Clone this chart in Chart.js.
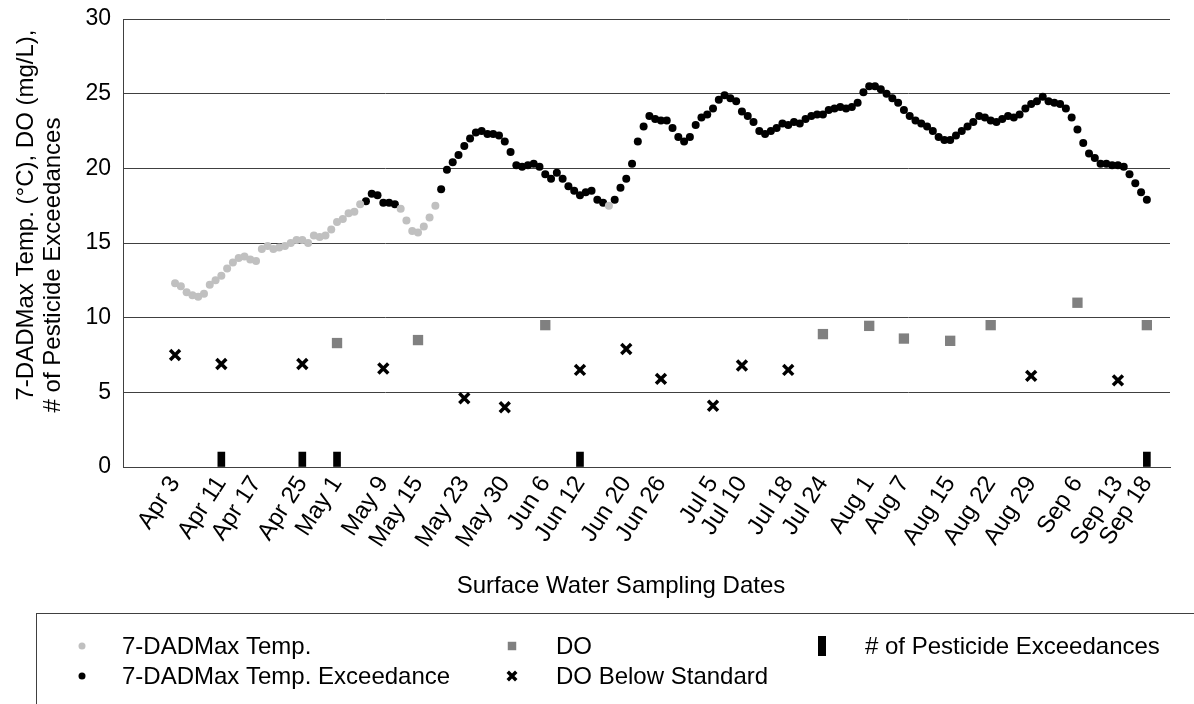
<!DOCTYPE html>
<html><head><meta charset="utf-8">
<script src="https://cdn.jsdelivr.net/npm/chart.js@4/dist/chart.umd.min.js"></script>
<style>html,body{margin:0;padding:0;background:#fff}#wrap{width:1194px;height:704px;position:relative}</style>
</head><body><div id="wrap"><canvas id="c" width="1194" height="704"></canvas></div>
<script>
// ---------- data ----------
const samplingDates = ['Apr 3','Apr 11','Apr 17','Apr 25','May 1','May 9','May 15','May 23','May 30','Jun 6','Jun 12','Jun 20','Jun 26','Jul 5','Jul 10','Jul 18','Jul 24','Aug 1','Aug 7','Aug 15','Aug 22','Aug 29','Sep 6','Sep 13','Sep 18'];
const doValues = [7.5, 6.9, null, 6.9, 8.3, 6.6, 8.5, 4.6, 4.0, 9.5, 6.5, 7.9, 5.9, 4.1, 6.8, 6.5, 8.9, 9.45, 8.6, 8.45, 9.5, 6.1, 11.0, 5.8, 9.5];
const doStandard = 8.0;
const pesticideExceedances = [0,1,0,1,1,0,0,0,0,0,1,0,0,0,0,0,0,0,0,0,0,0,0,0,1];
const tempStartDate = 'Apr 3';
const tempDaily = [
 12.3,12.1,11.7,11.5,11.4,11.6,12.2,12.5,12.8,13.3,
 13.7,14.0,14.1,13.9,13.8,14.6,14.8,14.6,14.7,14.8,
 15.0,15.2,15.2,15.0,15.5,15.4,15.5,15.9,16.4,16.6,
 17.0,17.1,17.6,17.8,18.3,18.2,17.7,17.7,17.6,
 17.3,16.5,15.8,15.7,16.1,16.7,17.5,
 18.6,19.9,20.4,20.9,21.5,22.0,22.4,22.5,22.3,22.3,
 22.2,21.8,21.1,20.2,20.1,20.2,20.3,20.1,19.6,19.3,
 19.7,19.3,18.8,18.5,18.2,18.4,18.5,17.9,17.7,17.5,
 17.9,18.7,19.3,20.3,21.8,
 22.8,23.5,23.3,23.2,23.2,22.7,22.1,21.8,22.1,22.9,23.4,
 23.6,24.0,24.6,24.9,24.7,24.5,23.8,23.5,23.1,22.5,
 22.3,22.5,22.7,23.0,22.9,23.1,23.0,23.3,23.5,23.6,
 23.6,23.9,24.0,24.1,24.0,24.1,24.4,25.1,25.5,25.5,25.3,25.0,
 24.7,24.4,23.9,23.5,23.2,23.0,22.8,22.5,22.1,21.9,21.9,22.2,22.5,22.8,23.1,
 23.5,23.4,23.2,23.1,23.3,23.5,23.4,23.6,24.0,24.3,
 24.5,24.8,24.5,24.4,24.3,24.0,23.4,22.6,21.7,21.0,
 20.7,20.3,20.3,20.2,20.2,20.1,19.6,19.0,18.4,17.9
];
const tempNonExceedRanges = [[0,32],[39,45],[75,75]]; // day indices from tempStartDate
const xRangeDates = ['Mar 25', 'Sep 22'];
const yTickStep = 5, yMin = 0, yMax = 30;

// ---------- helpers ----------
const monthStart = {Jan:0, Feb:31, Mar:59, Apr:90, May:120, Jun:151, Jul:181, Aug:212, Sep:243, Oct:273};
const doy = s => { const [m, d] = s.split(' '); return monthStart[m] + parseInt(d, 10); };
const sampleDoy = samplingDates.map(doy);
const t0 = doy(tempStartDate);
const isNonExceed = i => tempNonExceedRanges.some(([a, b]) => i >= a && i <= b);

const tempNormalPts = [], tempExceedPts = [];
tempDaily.forEach((v, i) => (isNonExceed(i) ? tempNormalPts : tempExceedPts).push({x: t0 + i, y: v}));
const doOkPts = [], doLowPts = [];
doValues.forEach((v, i) => { if (v == null) return; (v < doStandard ? doLowPts : doOkPts).push({x: sampleDoy[i], y: v}); });
const pestPts = [];
pesticideExceedances.forEach((v, i) => { if (v > 0) pestPts.push({x: sampleDoy[i], y: v}); });

const FONT = "'Liberation Sans', Arial, sans-serif";
Chart.defaults.font.family = FONT;
Chart.defaults.color = '#000';

const yTitleLines = ['7-DADMax Temp. (\u00B0C), DO (mg/L),', '# of Pesticide Exceedances'];
const xTitle = 'Surface Water Sampling Dates';

const titlePlugin = {
  id: 'axisTitles',
  afterDraw(chart) {
    const ctx = chart.ctx;
    ctx.save();
    ctx.fillStyle = '#000';
    ctx.font = '24px ' + FONT;
    ctx.textAlign = 'center';
    ctx.textBaseline = 'middle';
    const pos = [[26, 215], [53, 265]];
    yTitleLines.forEach((t, i) => {
      ctx.save();
      ctx.translate(pos[i][0], pos[i][1]);
      ctx.rotate(-Math.PI / 2);
      ctx.fillText(t, 0, 0);
      ctx.restore();
    });
    ctx.fillText(xTitle, 621, 586);
    ctx.restore();
  }
};

const legendLayout = [
  {ds: 0, x: 82, y: 646, tx: 122},
  {ds: 1, x: 82, y: 676, tx: 122},
  {ds: 2, x: 512, y: 646, tx: 556},
  {ds: 3, x: 512, y: 676, tx: 556},
  {ds: 4, x: 822, y: 646, tx: 865}
];
const legendPlugin = {
  id: 'boxLegend',
  afterDraw(chart) {
    const ctx = chart.ctx;
    ctx.save();
    ctx.strokeStyle = '#404040';
    ctx.lineWidth = 1;
    ctx.strokeRect(36.5, 613.5, 1300, 200);
    ctx.font = '24px ' + FONT;
    ctx.textBaseline = 'middle';
    ctx.textAlign = 'left';
    legendLayout.forEach(it => {
      const ds = chart.data.datasets[it.ds];
      if (ds.type === 'bar') {
        ctx.fillStyle = ds.backgroundColor;
        ctx.fillRect(it.x - 4, it.y - 10, 8, 20);
      } else {
        ctx.fillStyle = ds.pointBackgroundColor || '#000';
        ctx.strokeStyle = ds.pointBorderColor || '#000';
        ctx.lineWidth = ds.pointBorderWidth || 0;
        const r = ds.pointStyle === 'circle' ? 3.5 : 6;
        Chart.helpers.drawPoint(ctx, {pointStyle: ds.pointStyle, radius: r, rotation: 0, borderWidth: ds.pointBorderWidth || 0}, it.x, it.y);
      }
      ctx.fillStyle = '#000';
      ctx.fillText(ds.label, it.tx, it.y + 1);
    });
    ctx.restore();
  }
};

new Chart(document.getElementById('c'), {
  type: 'scatter',
  data: {
    datasets: [
      {label: '7-DADMax Temp.', data: tempNormalPts, pointStyle: 'circle', pointRadius: 4, pointBackgroundColor: '#c0c0c0', pointBorderWidth: 0},
      {label: '7-DADMax Temp. Exceedance', data: tempExceedPts, pointStyle: 'circle', pointRadius: 4, pointBackgroundColor: '#000', pointBorderWidth: 0},
      {label: 'DO', data: doOkPts, pointStyle: 'rect', pointRadius: 7.3, pointBackgroundColor: '#808080', pointBorderWidth: 0},
      {label: 'DO Below Standard', data: doLowPts, pointStyle: 'crossRot', pointRadius: 7, pointBorderColor: '#000', pointBackgroundColor: '#000', pointBorderWidth: 3.5},
      {type: 'bar', label: '# of Pesticide Exceedances', data: pestPts, backgroundColor: '#000', borderWidth: 0, barThickness: 7}
    ]
  },
  options: {
    responsive: false,
    animation: false,
    events: [],
    layout: {padding: {left: 0, right: 24, top: 19, bottom: 104}},
    plugins: {legend: {display: false}, tooltip: {enabled: false}},
    scales: {
      x: {
        type: 'linear',
        offset: false,
        min: doy(xRangeDates[0]),
        max: doy(xRangeDates[1]),
        afterBuildTicks: s => { s.ticks = sampleDoy.map(v => ({value: v})); },
        afterFit: s => { s.height = 133; s.paddingLeft = 0; s.paddingRight = 0; },
        ticks: {autoSkip: false, minRotation: 57, maxRotation: 57, padding: 4,
          font: {size: 24}, color: '#000',
          callback: (v, i) => samplingDates[i]},
        grid: {display: false, drawTicks: false},
        border: {display: true, color: '#404040', width: 1},
        title: {display: false}
      },
      y: {
        type: 'linear',
        min: yMin, max: yMax,
        afterFit: s => { s.width = 123; s.paddingTop = 0; s.paddingBottom = 0; },
        ticks: {stepSize: yTickStep, font: {size: 23}, color: '#000', padding: 12},
        grid: {color: '#404040', lineWidth: 1, drawTicks: false},
        border: {display: true, color: '#404040', width: 1}
      }
    }
  },
  plugins: [titlePlugin, legendPlugin]
});
</script>
</body></html>
